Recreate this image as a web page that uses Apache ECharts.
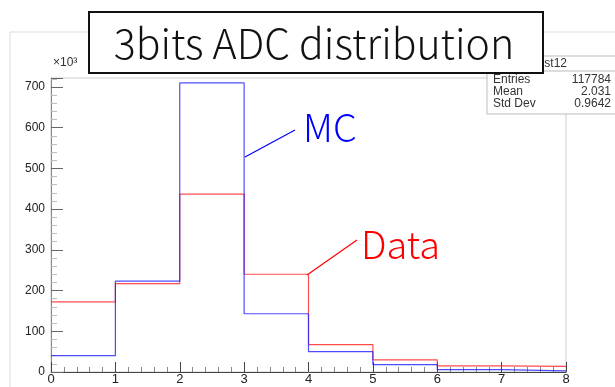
<!DOCTYPE html>
<html>
<head>
<meta charset="utf-8">
<script src="https://cdn.jsdelivr.net/npm/echarts@6/dist/echarts.min.js"></script>
<style>
  html, body { margin: 0; padding: 0; background: #fff; }
  #chart { width: 615px; height: 387px; }
</style>
</head>
<body>
<div id="chart"></div>
<script>
// bin edges of the 3-bit ADC (0..8), counts in units of 10^3
const binEdges = [0, 1, 2, 3, 4, 5, 6, 7, 8];
const mcCounts = [40, 223, 710, 143, 50, 18, 6, 3];
const dataCounts = [172, 217, 437, 240, 67, 30, 15, 14];
const yTicks = [0, 100, 200, 300, 400, 500, 600, 700];
const statsRows = [['Entries', '117784'], ['Mean', '2.031'], ['Std Dev', '0.9642']];

// turn bin contents into step points (last edge repeats the last bin)
function toSteps(counts) {
  return binEdges.map((x, i) => [x, counts[Math.min(i, counts.length - 1)]]);
}

const chart = echarts.init(document.getElementById('chart'));

const axisFont = { fontFamily: 'Liberation Sans', fontSize: 12, color: '#222' };

function histSeries(name, counts, color) {
  return {
    name,
    type: 'line',
    step: 'end',
    data: toSteps(counts),
    symbol: 'none',
    silent: true,
    lineStyle: { color, width: 1.2, opacity: 0.8 },
  };
}

const statsGraphics = [
  { type: 'rect', shape: { x: 487, y: 56, width: 130, height: 58 },
    style: { fill: '#fff', stroke: '#bbb', lineWidth: 1 } },
  { type: 'line', shape: { x1: 487, y1: 71, x2: 615, y2: 71 }, style: { stroke: '#bbb' } },
  { type: 'text', x: 551, y: 64, style: { text: 'hist12', fill: '#333', font: '12px Liberation Sans', align: 'center', verticalAlign: 'middle' } },
];
statsRows.forEach((r, i) => {
  statsGraphics.push(
    { type: 'text', x: 493, y: 80 + i * 12, style: { text: r[0], fill: '#333', font: '12px Liberation Sans', verticalAlign: 'middle' } },
    { type: 'text', x: 611, y: 80 + i * 12, style: { text: r[1], fill: '#333', font: '12px Liberation Sans', align: 'right', verticalAlign: 'middle' } }
  );
});

chart.setOption({
  animation: false,
  backgroundColor: '#fff',
  grid: { left: 51, right: 49, top: 78, bottom: 15, show: true, borderColor: '#ccc', borderWidth: 1 },
  xAxis: {
    type: 'value',
    min: 0,
    max: 8,
    interval: 1,
    axisLine: { lineStyle: { color: '#444' } },
    axisTick: { inside: true, length: 10, lineStyle: { color: '#444' } },
    minorTick: { show: true, splitNumber: 5, length: 5, lineStyle: { color: '#888' } },
    axisLabel: { ...axisFont, fontSize: 13, margin: 1, verticalAlign: 'top' },
    splitLine: { show: false },
  },
  yAxis: {
    type: 'value',
    min: 0,
    max: 722,
    interval: 100,
    axisLine: { show: true, lineStyle: { color: '#888' } },
    axisTick: { inside: true, length: 12, lineStyle: { color: '#666' } },
    minorTick: { show: true, splitNumber: 5, length: 6, lineStyle: { color: '#bbb' } },
    axisLabel: {
      ...axisFont,
      margin: 6,
      formatter: v => (yTicks.includes(v) ? String(v) : ''),
    },
    splitLine: { show: false },
  },
  series: [
    histSeries('Data', dataCounts, '#ff2020'),
    histSeries('MC', mcCounts, '#2020ff'),
  ],
  graphic: [
    // outer pad border
    { type: 'polyline', shape: { points: [[10, 387], [10, 32], [615, 32]] }, style: { stroke: '#ddd', fill: null, lineWidth: 1 } },
    { type: 'text', x: 53, y: 63, style: { text: '×10³', fill: '#333', font: '12px Liberation Sans', verticalAlign: 'middle' } },
    ...statsGraphics,
    // title box
    { type: 'rect', shape: { x: 89, y: 12, width: 454, height: 61 },
      style: { fill: '#fff', stroke: '#111', lineWidth: 2 } },
    { type: 'text', x: 314, y: 43, style: { text: '3bits ADC distribution', fill: '#111', font: '300 41px "Noto Sans CJK JP"', align: 'center', verticalAlign: 'middle' } },
    // annotations
    { type: 'line', shape: { x1: 245, y1: 157, x2: 295, y2: 130 }, style: { stroke: '#0000ff', lineWidth: 1.2 } },
    { type: 'text', x: 303, y: 128, style: { text: 'MC', fill: '#0000ff', font: '300 38px "Noto Sans CJK JP"', verticalAlign: 'middle' } },
    { type: 'line', shape: { x1: 307, y1: 275, x2: 357, y2: 240 }, style: { stroke: '#ff0000', lineWidth: 1.2 } },
    { type: 'text', x: 361, y: 245, style: { text: 'Data', fill: '#ff0000', font: '300 38px "Noto Sans CJK JP"', verticalAlign: 'middle' } },
  ],
});
</script>
</body>
</html>
